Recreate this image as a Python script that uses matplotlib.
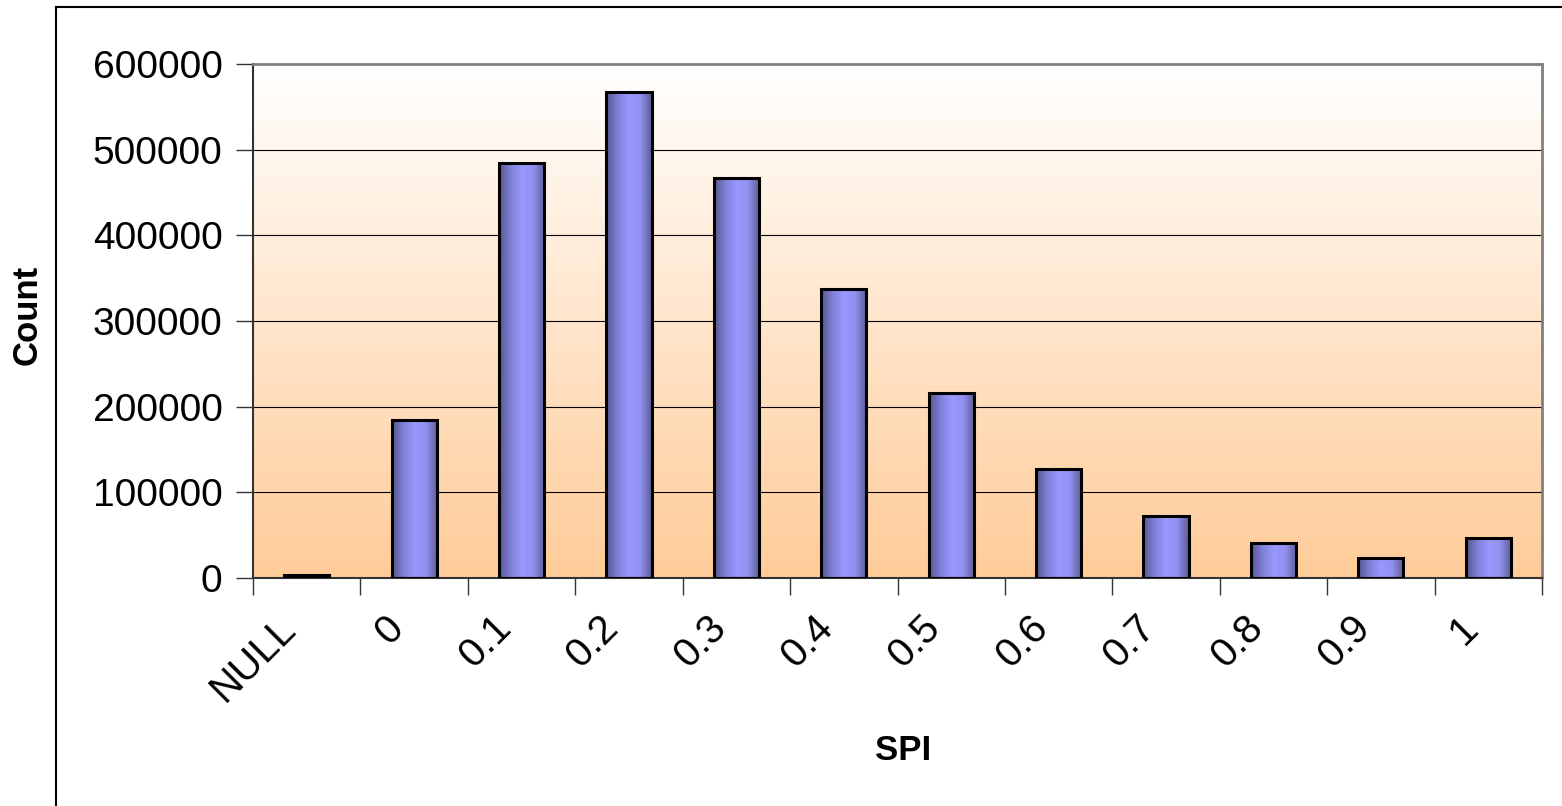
import numpy as np
import matplotlib
matplotlib.use("Agg")
import matplotlib.pyplot as plt
import matplotlib.transforms as mtransforms
from matplotlib.patches import Rectangle
from matplotlib.colors import LinearSegmentedColormap

plt.rcParams['font.family'] = ['Liberation Sans', 'DejaVu Sans']

spi_labels = ['NULL', '0', '0.1', '0.2', '0.3', '0.4', '0.5', '0.6', '0.7', '0.8', '0.9', '1']
counts = [3500, 185000, 484000, 567000, 467000, 337000, 216000, 127000, 72000, 41000, 23500, 46500]
y_ticks = [0, 100000, 200000, 300000, 400000, 500000, 600000]

W, H = 1562, 806
fig = plt.figure(figsize=(W / 100, H / 100), dpi=100)
ax = fig.add_axes([253 / W, 1 - 578 / H, 1289 / W, 514 / H])

n = len(counts)

# background: white at the top fading into peach at the bottom
bg_cmap = LinearSegmentedColormap.from_list('bg', ['#ffcc99', '#ffffff'])
grad = np.linspace(0, 1, 256).reshape(-1, 1)
ax.imshow(grad, cmap=bg_cmap, aspect='auto', origin='lower',
          extent=(-0.5, n - 0.5, 0, 600000), zorder=0)

# grid lines
for yv in y_ticks[1:-1]:
    ax.axhline(yv, color='#000000', lw=0.8, zorder=1)

# bars with a horizontal shading, darker at the sides
bar_cmap = LinearSegmentedColormap.from_list(
    'bar', ['#56568c', '#8080d8', '#9999ff', '#9090f0', '#5c5c94'])
shade = np.linspace(0, 1, 128).reshape(1, -1)
width = 0.42
for i, c in enumerate(counts):
    x0 = i - width / 2
    im = ax.imshow(shade, cmap=bar_cmap, aspect='auto',
                   extent=(x0, x0 + width, 0, c), zorder=2)
    rect = Rectangle((x0, 0), width, c, fill=False, ec='black', lw=2.2, zorder=3)
    ax.add_patch(rect)
    im.set_clip_path(rect)

ax.set_xlim(-0.5, n - 0.5)
ax.set_ylim(0, 600000)

ax.set_yticks(y_ticks)
ax.set_yticklabels([str(v) for v in y_ticks], fontsize=28)
ax.tick_params(axis='y', length=12, width=1, color='#333333', pad=10)

ax.set_xticks(range(n))
ax.set_xticklabels(spi_labels, fontsize=29, rotation=45, ha='right',
                   va='top', rotation_mode='anchor')
ax.tick_params(axis='x', which='major', length=0, pad=22)
shift = mtransforms.ScaledTranslation(-30 / 100, 0, fig.dpi_scale_trans)
for lbl in ax.get_xticklabels():
    lbl.set_transform(lbl.get_transform() + shift)
ax.set_xticks(np.arange(-0.5, n, 1), minor=True)
ax.tick_params(axis='x', which='minor', length=12, width=1, color='#333333')

for side in ['top', 'right']:
    ax.spines[side].set_color('#808080')
    ax.spines[side].set_linewidth(2)
ax.spines['left'].set_color('#333333')
ax.spines['left'].set_linewidth(1.5)
ax.spines['bottom'].set_color('#333333')
ax.spines['bottom'].set_linewidth(1.5)

fig.text(27 / W, 1 - 315 / H, 'Count', fontsize=25, fontweight='bold',
         rotation=90, ha='center', va='center')
fig.text(903 / W, 1 - 751 / H, 'SPI', fontsize=25, fontweight='bold',
         ha='center', va='center')

# outer chart border, cut off at the right and bottom
fig.add_artist(plt.Line2D([56 / W, 56 / W], [0, 1 - 7 / H],
                          color='black', lw=1.5, transform=fig.transFigure))
fig.add_artist(plt.Line2D([56 / W, 1], [1 - 7 / H, 1 - 7 / H],
                          color='black', lw=1.5, transform=fig.transFigure))

fig.savefig('out.png', dpi=100)
